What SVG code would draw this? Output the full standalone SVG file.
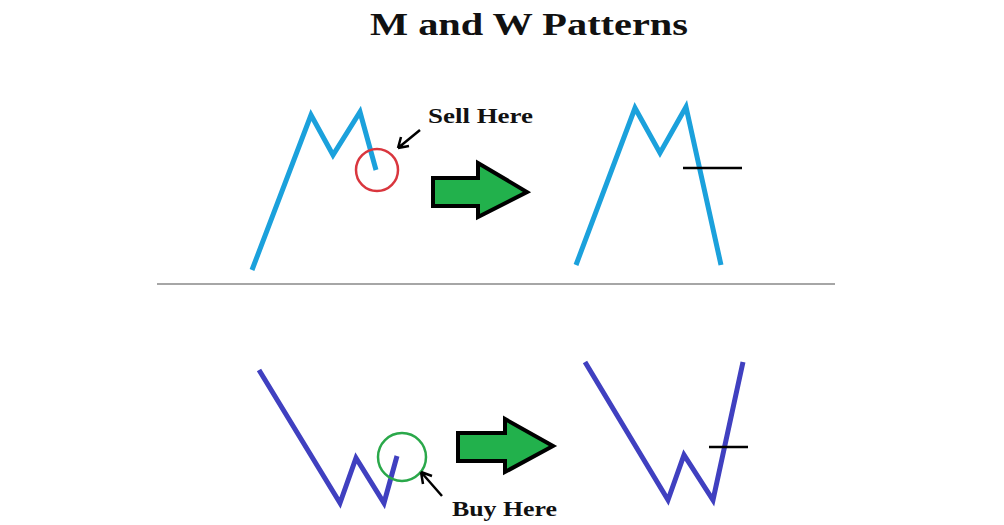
<svg xmlns="http://www.w3.org/2000/svg" width="1004" height="525" viewBox="0 0 1004 525">
<style>
.t{font-family:"Liberation Serif",serif;font-weight:bold;fill:#111}
.m{fill:none;stroke:#1ba1dc;stroke-width:5;stroke-linejoin:miter}
.w{fill:none;stroke:#4040c0;stroke-width:5}
.g{fill:#22b14c;stroke:#000;stroke-width:4;stroke-linejoin:miter}
.k{stroke:#000;stroke-width:2.5;fill:none}
</style>
<rect width="1004" height="525" fill="#fff"/>
<text class="t" x="370" y="35" font-size="32" textLength="318" lengthAdjust="spacingAndGlyphs">M and W Patterns</text>
<g id="m-left"><polyline class="m" points="252,270 311,115 333,155 360,112 376,170"/></g>
<g id="sell-circle"><circle cx="377" cy="170" r="21" fill="none" stroke="#d9363e" stroke-width="2.5"/></g>
<g id="sell-label"><text class="t" x="428" y="123" font-size="21" textLength="105" lengthAdjust="spacingAndGlyphs">Sell Here</text></g>
<g id="arrow-top"><polygon class="g" points="433,178 478,178 478,163 527,192 478,217 478,206 433,206"/></g>
<g id="m-right"><polyline class="m" points="576,265 635,108 660,153 686,107 721,265"/><line class="k" x1="683" y1="168" x2="742" y2="168"/></g>
<g id="divider"><line x1="157" y1="284" x2="835" y2="284" stroke="#888" stroke-width="1.5"/></g>
<g id="w-left"><polyline class="w" points="259,370 340,503 356,458 384,503 397,456"/></g>
<g id="buy-circle"><circle cx="402" cy="457" r="24" fill="none" stroke="#2aa84a" stroke-width="2.5"/></g>
<g id="buy-label"><text class="t" x="452" y="516" font-size="21" textLength="105" lengthAdjust="spacingAndGlyphs">Buy Here</text></g>
<g id="arrow-bottom"><polygon class="g" points="458,433 505,433 505,419 553,446 505,472 505,461 458,461"/></g>
<g id="w-right"><polyline class="w" points="585,362 668,500 684,455 713,500 743,362"/><line class="k" x1="709" y1="447" x2="748" y2="447"/></g>
<g id="connectors">
<path class="k" d="M420,130 L398,148 M398,148 L401,137 M398,148 L409,146"/>
<path class="k" d="M442,496 L421,472 M421,472 L423,484 M421,472 L432,476"/>
</g>
</svg>
